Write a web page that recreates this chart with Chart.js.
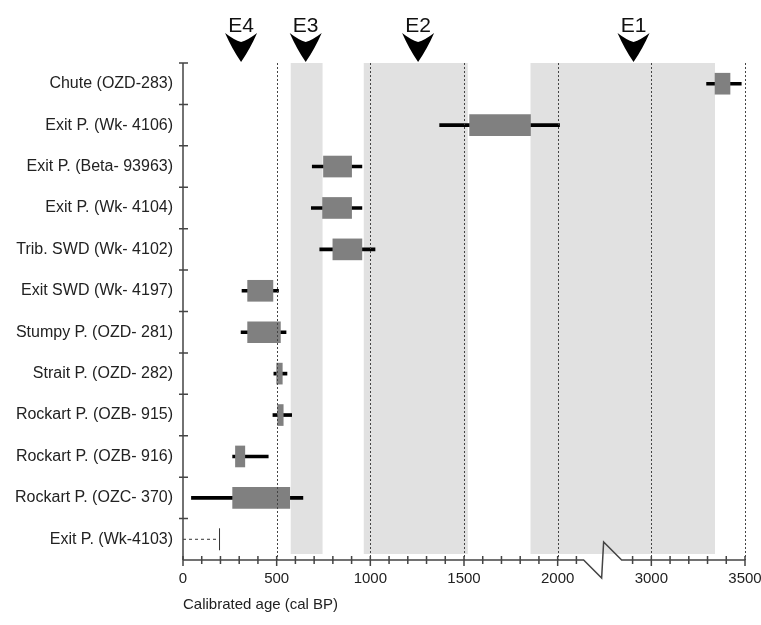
<!DOCTYPE html>
<html>
<head>
<meta charset="utf-8">
<script src="https://cdn.jsdelivr.net/npm/chart.js@4"></script>
<style>
  html, body { margin: 0; padding: 0; background: #fff; }
  #wrap { width: 761px; height: 625px; }
</style>
</head>
<body>
<div id="wrap"><canvas id="ages-chart"></canvas></div>
<script>
// samples, top to bottom
const categories = ['Chute (OZD-283)', 'Exit P. (Wk- 4106)', 'Exit P. (Beta- 93963)', 'Exit P. (Wk- 4104)',
    'Trib. SWD (Wk- 4102)', 'Exit SWD (Wk- 4197)', 'Stumpy P. (OZD- 281)', 'Strait P. (OZD- 282)',
    'Rockart P. (OZB- 915)', 'Rockart P. (OZB- 916)', 'Rockart P. (OZC- 370)', 'Exit P. (Wk-4103)'];
// calibrated ages (cal BP): full range and central range
const rangeLow  = [3295, 1370, 690, 685, 730, 315, 310, 485, 480, 265, 45, null];
const rangeHigh = [3480, 2020, 955, 955, 1025, 510, 550, 555, 580, 455, 640, null];
const boxLow    = [3340, 1530, 750, 745, 800, 345, 345, 500, 505, 280, 265, null];
const boxHigh   = [3420, 1855, 900, 900, 955, 480, 520, 530, 535, 330, 570, null];
const openRange = [0, 195]; // Exit P. (Wk-4103), open-ended

// events
const eventNames = ['E4', 'E3', 'E2', 'E1'];
const eventAges = [310, 655, 1255, 2810];
const eventBandStart = [null, 575, 965, 1855];
const eventBandEnd = [null, 745, 1520, 3340];

const tickLabels = ['0', '500', '1000', '1500', '2000', '3000', '3500'];
const axisBreak = 2240;

// the axis is broken between 2000 and 3000
function toAxis(v) {
    if (v <= 2000) return v;
    if (v >= 3000) return v - 500;
    return 2000 + (v - 2000) / 2;
}

const FONT = "'Liberation Sans', Arial, sans-serif";

const decor = {
    id: 'decor',
    beforeDatasetsDraw(chart) {
        const {ctx, chartArea: a, scales: {x}} = chart;
        ctx.save();
        ctx.fillStyle = '#e1e1e1';
        eventBandStart.forEach((s, i) => {
            if (s === null) return;
            const x0 = x.getPixelForValue(toAxis(s));
            const x1 = x.getPixelForValue(toAxis(eventBandEnd[i]));
            ctx.fillRect(x0, a.top, x1 - x0, a.bottom - a.top - 6);
        });
        ctx.restore();
    },
    afterDatasetsDraw(chart) {
        const {ctx, chartArea: a, scales: {x}} = chart;
        ctx.save();
        ctx.strokeStyle = '#444';
        ctx.lineWidth = 1;
        ctx.setLineDash([2, 2]);
        x.ticks.forEach(t => {
            if (t.value % 500 !== 0 || t.value === 0) return;
            const px = Math.round(x.getPixelForValue(t.value)) + 0.5;
            ctx.beginPath();
            ctx.moveTo(px, a.top);
            ctx.lineTo(px, a.bottom);
            ctx.stroke();
        });
        ctx.restore();
    },
    afterDraw(chart) {
        const {ctx, chartArea: a, scales: {x, y}} = chart;
        ctx.save();
        ctx.strokeStyle = '#444';
        ctx.lineWidth = 1.5;

        // y axis and ticks at row boundaries
        const ax = a.left;
        ctx.beginPath();
        ctx.moveTo(ax, a.top);
        ctx.lineTo(ax, a.bottom);
        const half = (y.getPixelForValue(1) - y.getPixelForValue(0)) / 2;
        categories.forEach((c, i) => {
            const py = y.getPixelForValue(i) - half;
            ctx.moveTo(ax - 4, py);
            ctx.lineTo(ax + 5, py);
        });
        ctx.stroke();

        // x axis with break
        const by = a.bottom;
        const bx = x.getPixelForValue(axisBreak);
        const w = 19;
        ctx.beginPath();
        ctx.moveTo(a.left, by);
        ctx.lineTo(bx - w, by);
        ctx.lineTo(bx - 1, by + 18);
        ctx.lineTo(bx + 1, by - 18);
        ctx.lineTo(bx + w, by);
        ctx.lineTo(a.right, by);
        x.ticks.forEach(t => {
            const px = x.getPixelForValue(t.value);
            if (Math.abs(px - bx) < w) return;
            ctx.moveTo(px, by - 4);
            ctx.lineTo(px, by + (t.value % 500 === 0 ? 6 : 4));
        });
        ctx.stroke();

        // event arrows
        ctx.font = '21px ' + FONT;
        ctx.textAlign = 'center';
        ctx.textBaseline = 'alphabetic';
        eventAges.forEach((e, i) => {
            const cx = x.getPixelForValue(toAxis(e));
            const t = a.top;
            ctx.fillStyle = '#000';
            ctx.beginPath();
            ctx.moveTo(cx, t - 1);
            ctx.quadraticCurveTo(cx - 9, t - 14, cx - 16, t - 30);
            ctx.quadraticCurveTo(cx - 7, t - 23, cx, t - 21);
            ctx.quadraticCurveTo(cx + 7, t - 23, cx + 16, t - 30);
            ctx.quadraticCurveTo(cx + 9, t - 14, cx, t - 1);
            ctx.closePath();
            ctx.fill();
            ctx.fillStyle = '#111';
            ctx.fillText(eventNames[i], cx, t - 31);
        });
        ctx.restore();
    }
};

const ctx = document.getElementById('ages-chart').getContext('2d');
new Chart(ctx, {
    type: 'bar',
    data: {
        labels: categories,
        datasets: [{
            label: 'central range',
            data: boxLow.map((v, i) => v === null ? null : [toAxis(v), toAxis(boxHigh[i])]),
            backgroundColor: '#808080',
            barThickness: 21,
            grouped: false,
            order: 1
        }, {
            label: 'full range',
            data: rangeLow.map((v, i) => v === null ? null : [toAxis(v), toAxis(rangeHigh[i])]),
            backgroundColor: '#000',
            barThickness: 3,
            grouped: false,
            order: 2
        }, {
            type: 'line',
            label: 'open range',
            data: openRange.map(v => ({x: toAxis(v), y: categories[categories.length - 1]})),
            borderColor: '#333',
            borderWidth: 1,
            borderDash: [3, 3],
            pointStyle: 'line',
            pointRotation: 90,
            pointRadius: [0, 11],
            pointBorderColor: '#333',
            pointBorderWidth: 1,
            order: 0
        }]
    },
    options: {
        indexAxis: 'y',
        responsive: true,
        maintainAspectRatio: false,
        animation: false,
        layout: { padding: { top: 63, right: 16, left: 0, bottom: 0 } },
        plugins: { legend: { display: false }, tooltip: { enabled: false } },
        scales: {
            x: {
                type: 'linear',
                min: 0,
                max: 3000,
                grid: { display: false, drawTicks: false },
                border: { display: false },
                afterFit: s => { s.height = 65; s.paddingLeft = 0; s.paddingRight = 0; },
                ticks: {
                    stepSize: 100,
                    autoSkip: false,
                    maxRotation: 0,
                    padding: 10,
                    color: '#222',
                    font: { family: FONT, size: 15 },
                    callback: v => v % 500 === 0 ? tickLabels[v / 500] : ''
                },
                title: {
                    display: true,
                    text: 'Calibrated age (cal BP)',
                    align: 'start',
                    color: '#222',
                    font: { family: FONT, size: 15 },
                    padding: { top: 0, bottom: 11 }
                }
            },
            y: {
                grid: { display: false, drawTicks: false },
                border: { display: false },
                afterFit: s => { s.width = 183; },
                ticks: {
                    padding: 10,
                    color: '#222',
                    font: { family: FONT, size: 16 }
                }
            }
        }
    },
    plugins: [decor]
});
</script>
</body>
</html>
